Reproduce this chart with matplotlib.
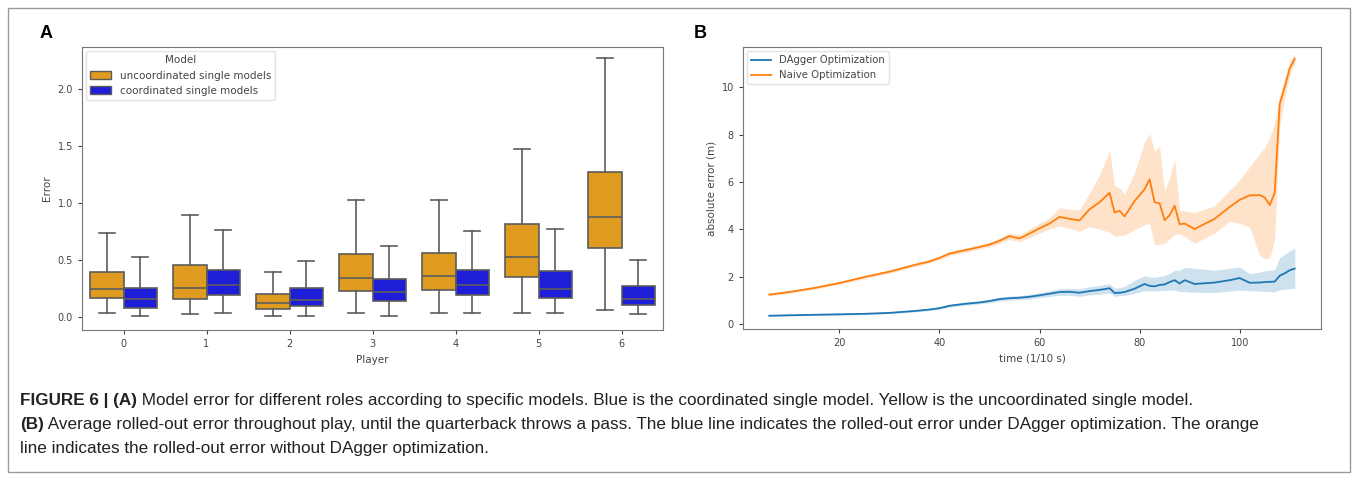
import numpy as np
import matplotlib
matplotlib.use("Agg")
import matplotlib.pyplot as plt
from matplotlib.patches import Patch, Rectangle

# ---- panel A: box statistics ----
players = [0, 1, 2, 3, 4, 5, 6]
unc_whislo = [0.030, 0.023, 0.012, 0.030, 0.038, 0.030, 0.065]
unc_q1 = [0.167, 0.155, 0.073, 0.229, 0.240, 0.352, 0.607]
unc_med = [0.249, 0.252, 0.123, 0.343, 0.358, 0.525, 0.877]
unc_q3 = [0.396, 0.452, 0.205, 0.551, 0.560, 0.818, 1.276]
unc_whishi = [0.733, 0.891, 0.396, 1.026, 1.026, 1.478, 2.276]

coo_whislo = [0.012, 0.030, 0.012, 0.012, 0.030, 0.030, 0.023]
coo_q1 = [0.082, 0.188, 0.094, 0.138, 0.188, 0.167, 0.103]
coo_med = [0.155, 0.276, 0.152, 0.220, 0.276, 0.246, 0.161]
coo_q3 = [0.258, 0.416, 0.252, 0.331, 0.416, 0.405, 0.273]
coo_whishi = [0.525, 0.765, 0.490, 0.625, 0.757, 0.774, 0.499]

# ---- panel B: rolled-out error over time ----
time = [6, 10, 15, 20, 25, 30, 35, 38, 40, 42, 45, 48, 50, 52, 54, 56, 58, 60,
        62, 64, 66, 68, 70, 72, 74, 75, 76, 77, 79, 81, 82, 83, 84, 85, 86, 87,
        88, 89, 91, 95, 98, 100, 102, 104, 105, 106, 107, 108, 109, 110, 111]

naive_mean = [1.25, 1.36, 1.53, 1.74, 1.99, 2.22, 2.50, 2.65, 2.80, 2.98, 3.12, 3.26,
              3.36, 3.52, 3.72, 3.62, 3.83, 4.05, 4.25, 4.53, 4.45, 4.38, 4.85, 5.15,
              5.55, 4.72, 4.79, 4.55, 5.20, 5.70, 6.12, 5.15, 5.10, 4.39, 4.60, 5.00,
              4.22, 4.25, 4.02, 4.45, 4.95, 5.25, 5.44, 5.45, 5.35, 5.03, 5.55, 9.30,
              10.0, 10.8, 11.2]
naive_lo = [1.20, 1.31, 1.48, 1.68, 1.93, 2.15, 2.43, 2.58, 2.72, 2.90, 3.03, 3.17,
            3.26, 3.40, 3.58, 3.48, 3.65, 3.85, 4.02, 4.15, 4.05, 3.92, 4.12, 4.02,
            3.88, 3.72, 3.75, 3.76, 4.00, 4.20, 4.25, 3.35, 3.38, 3.40, 3.60, 3.78,
            3.83, 3.70, 3.42, 3.85, 4.35, 4.25, 4.10, 2.90, 2.77, 2.80, 3.60, 8.30,
            9.60, 10.5, 11.0]
naive_hi = [1.32, 1.42, 1.59, 1.80, 2.06, 2.29, 2.58, 2.73, 2.88, 3.07, 3.21, 3.36,
            3.47, 3.64, 3.86, 3.77, 4.02, 4.26, 4.50, 4.92, 4.85, 4.82, 5.55, 6.30,
            7.35, 5.85, 5.75, 5.50, 6.40, 7.70, 8.05, 7.30, 7.50, 5.60, 6.20, 6.95,
            4.82, 4.78, 4.72, 5.00, 5.66, 6.08, 6.65, 7.20, 7.45, 7.90, 8.50, 9.70,
            10.4, 11.1, 11.4]

dagger_mean = [0.36, 0.38, 0.40, 0.42, 0.44, 0.48, 0.56, 0.62, 0.68, 0.78, 0.86, 0.92,
               0.98, 1.06, 1.10, 1.12, 1.16, 1.22, 1.29, 1.36, 1.37, 1.33, 1.40, 1.45,
               1.52, 1.32, 1.33, 1.36, 1.50, 1.70, 1.62, 1.60, 1.66, 1.68, 1.78, 1.86,
               1.72, 1.86, 1.70, 1.76, 1.86, 1.95, 1.75, 1.76, 1.78, 1.79, 1.80, 2.05,
               2.15, 2.28, 2.35]
dagger_lo = [0.33, 0.35, 0.37, 0.39, 0.41, 0.45, 0.52, 0.58, 0.63, 0.72, 0.80, 0.86,
             0.91, 0.98, 1.02, 1.04, 1.07, 1.12, 1.18, 1.22, 1.22, 1.18, 1.24, 1.27,
             1.32, 1.18, 1.20, 1.22, 1.30, 1.42, 1.40, 1.40, 1.42, 1.43, 1.44, 1.45,
             1.38, 1.38, 1.35, 1.34, 1.40, 1.44, 1.42, 1.40, 1.38, 1.38, 1.37, 1.45,
             1.48, 1.50, 1.52]
dagger_hi = [0.39, 0.41, 0.43, 0.45, 0.48, 0.52, 0.60, 0.67, 0.73, 0.84, 0.93, 0.99,
             1.05, 1.14, 1.18, 1.21, 1.26, 1.33, 1.41, 1.50, 1.52, 1.50, 1.58, 1.64,
             1.70, 1.52, 1.55, 1.60, 1.85, 2.05, 2.00, 1.98, 2.02, 2.05, 2.15, 2.28,
             2.28, 2.40, 2.36, 2.28, 2.36, 2.42, 2.14, 2.20, 2.25, 2.28, 2.30, 2.80,
             2.95, 3.10, 3.20]

caption_a = "Model error for different roles according to specific models. Blue is the coordinated single model. Yellow is the uncoordinated single model."
caption_b = "Average rolled-out error throughout play, until the quarterback throws a pass. The blue line indicates the rolled-out error under DAgger optimization. The orange"
caption_c = "line indicates the rolled-out error without DAgger optimization."

orange_box = "#df9b20"
blue_box = "#1e1ed8"
line_gray = "#5c5c5c"
txt_gray = "#444444"

plt.rcParams["font.size"] = 7
plt.rcParams["text.color"] = txt_gray
plt.rcParams["axes.labelcolor"] = txt_gray
plt.rcParams["xtick.color"] = txt_gray
plt.rcParams["ytick.color"] = txt_gray
plt.rcParams["axes.edgecolor"] = "#777777"

fig = plt.figure(figsize=(13.57, 4.8), dpi=100)

# outer frame
fig.patches.append(Rectangle((8 / 1357, 8 / 480), 1342 / 1357, 464 / 480,
                             transform=fig.transFigure, fill=False,
                             edgecolor="#9a9a9a", linewidth=1.0))

# ---------- A ----------
ax1 = fig.add_axes([82 / 1357, 150 / 480, 581 / 1357, 283 / 480])


def make_stats(lo, q1, med, q3, hi):
    return [dict(whislo=a, q1=b, med=c, q3=d, whishi=e, fliers=[])
            for a, b, c, d, e in zip(lo, q1, med, q3, hi)]


pos = np.array(players, dtype=float)
for stats, offset, col in [
        (make_stats(unc_whislo, unc_q1, unc_med, unc_q3, unc_whishi), -0.2, orange_box),
        (make_stats(coo_whislo, coo_q1, coo_med, coo_q3, coo_whishi), 0.2, blue_box)]:
    ax1.bxp(stats, positions=pos + offset, widths=0.4, patch_artist=True,
            showfliers=False, manage_ticks=False,
            boxprops=dict(facecolor=col, edgecolor=line_gray, linewidth=1.2),
            medianprops=dict(color=line_gray, linewidth=1.2),
            whiskerprops=dict(color=line_gray, linewidth=1.2),
            capprops=dict(color=line_gray, linewidth=1.2),
            capwidths=0.2)

ax1.set_xlim(-0.5, 6.5)
ax1.set_ylim(-0.115, 2.37)
ax1.set_xticks(players)
ax1.set_xticklabels([str(p) for p in players])
ax1.set_yticks([0.0, 0.5, 1.0, 1.5, 2.0])
ax1.set_xlabel("Player", fontsize=7.5)
ax1.set_ylabel("Error", fontsize=7.5)
ax1.tick_params(labelsize=7, length=3)
leg1 = ax1.legend(handles=[Patch(facecolor=orange_box, edgecolor=line_gray, label="uncoordinated single models"),
                           Patch(facecolor=blue_box, edgecolor=line_gray, label="coordinated single models")],
                  title="Model", loc="upper left", fontsize=7.5, title_fontsize=7.5,
                  frameon=True, borderaxespad=0.4)
leg1.get_frame().set_edgecolor("#dddddd")

# ---------- B ----------
ax2 = fig.add_axes([743 / 1357, 151 / 480, 578 / 1357, 282 / 480])
ax2.plot(time, dagger_mean, color="#1f77b4", linewidth=1.3, label="DAgger Optimization")
ax2.fill_between(time, dagger_lo, dagger_hi, color="#1f77b4", alpha=0.22, linewidth=0)
ax2.plot(time, naive_mean, color="#ff7f0e", linewidth=1.3, label="Naive Optimization")
ax2.fill_between(time, naive_lo, naive_hi, color="#ff7f0e", alpha=0.22, linewidth=0)
ax2.set_xlim(0.75, 116.25)
ax2.set_ylim(-0.2, 11.7)
ax2.set_xticks([20, 40, 60, 80, 100])
ax2.set_yticks([0, 2, 4, 6, 8, 10])
ax2.set_xlabel("time (1/10 s)", fontsize=7.5)
ax2.set_ylabel("absolute error (m)", fontsize=7.5)
ax2.tick_params(labelsize=7, length=3)
leg2 = ax2.legend(loc="upper left", fontsize=7.3, frameon=True, borderaxespad=0.4)
leg2.get_frame().set_edgecolor("#dddddd")

# panel letters
fig.text(40 / 1357, 1 - 33 / 480, "A", fontsize=13, fontweight="bold",
         family="Liberation Sans", color="black", va="center")
fig.text(694 / 1357, 1 - 33 / 480, "B", fontsize=13, fontweight="bold",
         family="Liberation Sans", color="black", va="center")

# caption
cap_kw = dict(fontsize=12.3, family="Liberation Sans", color="#222222", va="center")
t1 = fig.text(20 / 1357, 1 - 401 / 480, "FIGURE 6 | (A)", fontweight="bold", **cap_kw)
t2 = fig.text(20 / 1357, 1 - 424 / 480, "(B)", fontweight="bold", **cap_kw)
fig.canvas.draw()
renderer = fig.canvas.get_renderer()
bb = t1.get_window_extent(renderer).transformed(fig.transFigure.inverted())
fig.text(bb.x1, 1 - 401 / 480, " " + caption_a, **cap_kw)
bb2 = t2.get_window_extent(renderer).transformed(fig.transFigure.inverted())
fig.text(bb2.x1, 1 - 424 / 480, " " + caption_b, **cap_kw)
fig.text(20 / 1357, 1 - 448 / 480, caption_c, **cap_kw)

fig.savefig("out.png", dpi=100)
